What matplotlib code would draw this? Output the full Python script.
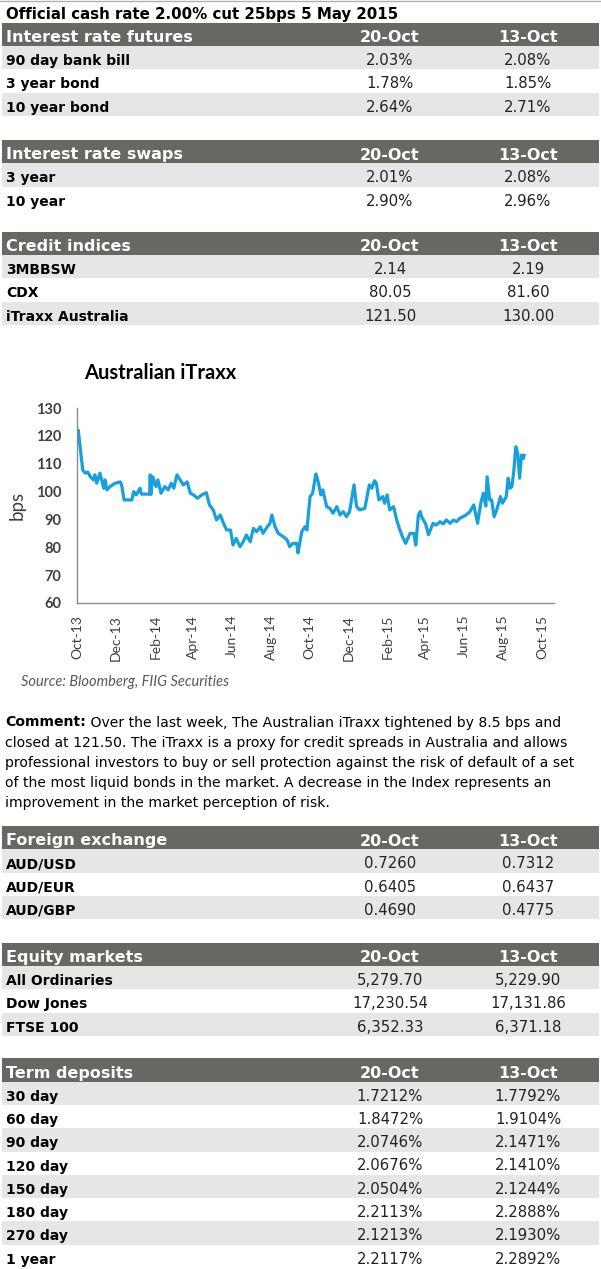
import matplotlib
matplotlib.use('Agg')
import matplotlib.pyplot as plt
import matplotlib.dates as mdates
from matplotlib.patches import Rectangle
import pandas as pd

# ---- table data ----
cash_title = 'Official cash rate 2.00% cut 25bps 5 May 2015'
col_dates = ['20-Oct', '13-Oct']

futures_rows = ['90 day bank bill', '3 year bond', '10 year bond']
futures_now = ['2.03%', '1.78%', '2.64%']
futures_prev = ['2.08%', '1.85%', '2.71%']

swaps_rows = ['3 year', '10 year']
swaps_now = ['2.01%', '2.90%']
swaps_prev = ['2.08%', '2.96%']

credit_rows = ['3MBBSW', 'CDX', 'iTraxx Australia']
credit_now = ['2.14', '80.05', '121.50']
credit_prev = ['2.19', '81.60', '130.00']

fx_rows = ['AUD/USD', 'AUD/EUR', 'AUD/GBP']
fx_now = ['0.7260', '0.6405', '0.4690']
fx_prev = ['0.7312', '0.6437', '0.4775']

equity_rows = ['All Ordinaries', 'Dow Jones', 'FTSE 100']
equity_now = ['5,279.70', '17,230.54', '6,352.33']
equity_prev = ['5,229.90', '17,131.86', '6,371.18']

td_rows = ['30 day', '60 day', '90 day', '120 day', '150 day', '180 day', '270 day', '1 year']
td_now = ['1.7212%', '1.8472%', '2.0746%', '2.0676%', '2.0504%', '2.2113%', '2.1213%', '2.2117%']
td_prev = ['1.7792%', '1.9104%', '2.1471%', '2.1410%', '2.1244%', '2.2888%', '2.1930%', '2.2892%']

# ---- iTraxx series ----
itraxx_dates = [
    '2013-10-01', '2013-10-03', '2013-10-10', '2013-10-14', '2013-10-18', '2013-10-22', '2013-10-27',
    '2013-10-29', '2013-11-01', '2013-11-06', '2013-11-12', '2013-11-14', '2013-11-17', '2013-11-22',
    '2013-11-30', '2013-12-08', '2013-12-10', '2013-12-14', '2013-12-26', '2013-12-29', '2014-01-02',
    '2014-01-08', '2014-01-10', '2014-01-23', '2014-01-24', '2014-01-25', '2014-01-28', '2014-02-02',
    '2014-02-05', '2014-02-10', '2014-02-16', '2014-02-21', '2014-02-26', '2014-03-02', '2014-03-07',
    '2014-03-12', '2014-03-17', '2014-03-23', '2014-03-28', '2014-04-02', '2014-04-08', '2014-04-15',
    '2014-04-22', '2014-04-27', '2014-05-03', '2014-05-08', '2014-05-14', '2014-05-19', '2014-05-24',
    '2014-05-30', '2014-06-03', '2014-06-08', '2014-06-14', '2014-06-19', '2014-06-24', '2014-06-30',
    '2014-07-05', '2014-07-10', '2014-07-16', '2014-07-20', '2014-07-25', '2014-07-31', '2014-08-03',
    '2014-08-08', '2014-08-13', '2014-08-21', '2014-08-27', '2014-08-31', '2014-09-05', '2014-09-11',
    '2014-09-13', '2014-09-19', '2014-09-24', '2014-09-27', '2014-10-02', '2014-10-06', '2014-10-11',
    '2014-10-14', '2014-10-19', '2014-10-22', '2014-10-28', '2014-11-02', '2014-11-07', '2014-11-13',
    '2014-11-18', '2014-11-23', '2014-11-28', '2014-12-03', '2014-12-06', '2014-12-10', '2014-12-14',
    '2014-12-19', '2014-12-27', '2014-12-31', '2015-01-03', '2015-01-07', '2015-01-11', '2015-01-14',
    '2015-01-18', '2015-01-24', '2015-01-27', '2015-01-31', '2015-02-04', '2015-02-10', '2015-02-15',
    '2015-02-20', '2015-02-24', '2015-03-01', '2015-03-08', '2015-03-14', '2015-03-17', '2015-03-21',
    '2015-03-24', '2015-03-26', '2015-04-01', '2015-04-06', '2015-04-13', '2015-04-18', '2015-04-24',
    '2015-04-29', '2015-05-04', '2015-05-10', '2015-05-15', '2015-05-20', '2015-05-25', '2015-05-30',
    '2015-06-04', '2015-06-10', '2015-06-16', '2015-06-22', '2015-06-27', '2015-07-01', '2015-07-05',
    '2015-07-07', '2015-07-11', '2015-07-14', '2015-07-18', '2015-07-22', '2015-07-28', '2015-07-31',
    '2015-08-06', '2015-08-09', '2015-08-12', '2015-08-15', '2015-08-18', '2015-08-21', '2015-08-24',
    '2015-08-27', '2015-08-30', '2015-09-02', '2015-09-03',
]
itraxx_bps = [
    120.8, 122.0, 107.7, 106.6, 107.0, 105.3, 104.2,
    106.0, 103.0, 106.6, 101.2, 104.2, 100.6, 101.8,
    103.0, 103.5, 102.4, 97.0, 97.0, 100.0, 98.8,
    101.2, 99.1, 99.1, 106.0, 99.0, 105.3, 101.8,
    104.2, 99.4, 101.8, 100.6, 103.0, 101.2, 106.0,
    104.2, 102.4, 103.5, 99.4, 98.8, 97.6, 98.8,
    99.6, 95.2, 93.4, 89.8, 91.6, 88.6, 86.2,
    86.2, 80.8, 83.2, 80.2, 82.0, 84.4, 82.0,
    86.8, 85.6, 87.4, 85.0, 86.8, 88.6, 91.6,
    87.4, 85.0, 83.8, 82.6, 80.2, 81.4, 81.4,
    78.0, 85.6, 87.4, 86.2, 98.2, 99.4, 106.3,
    104.2, 98.8, 100.6, 94.6, 94.0, 92.2, 94.6,
    91.6, 92.8, 91.0, 92.8, 97.0, 102.4, 94.6,
    93.4, 94.0, 98.8, 102.4, 101.2, 103.9, 103.0,
    97.0, 98.2, 95.8, 98.8, 93.4, 94.6, 89.8,
    86.2, 83.8, 81.4, 85.0, 85.0, 80.8, 91.6,
    92.8, 91.0, 88.6, 84.5, 88.6, 88.0, 89.2,
    88.4, 89.8, 88.6, 89.8, 89.2, 90.4, 91.0,
    91.6, 92.8, 95.2, 88.6, 95.8, 99.4, 94.8,
    105.3, 97.0, 97.0, 91.0, 93.4, 98.2, 95.8,
    98.2, 104.8, 101.2, 101.8, 107.7, 116.1, 113.7,
    104.8, 113.1, 111.9, 113.0,
]

comment_lines = [
    'Over the last week, The Australian iTraxx tightened by 8.5 bps and',
    'closed at 121.50. The iTraxx is a proxy for credit spreads in Australia and allows',
    'professional investors to buy or sell protection against the risk of default of a set',
    'of the most liquid bonds in the market. A decrease in the Index represents an',
    'improvement in the market perception of risk.',
]

W, H = 601, 1269
HEAD = '#686763'
STRIPE = '#e6e6e6'
ROW = 23.3
TFONT = 'DejaVu Sans'

fig = plt.figure(figsize=(W / 100, H / 100), dpi=100)
bg = fig.add_axes([0, 0, 1, 1])
bg.set_xlim(0, W)
bg.set_ylim(H, 0)
bg.axis('off')


def draw_table(top, title, labels, now, prev):
    bg.add_patch(Rectangle((2, top), 597, ROW, color=HEAD, lw=0))
    bg.text(6, top + 19.5, title, color='white', fontsize=11.5, fontweight='bold',
            family=TFONT, va='baseline')
    for x, d in zip([390, 528], col_dates):
        bg.text(x, top + 19.5, d, color='white', fontsize=11.5, fontweight='bold',
                family=TFONT, va='baseline', ha='center')
    for i, (lab, a, b) in enumerate(zip(labels, now, prev)):
        y0 = top + ROW * (i + 1)
        if i % 2 == 0:
            bg.add_patch(Rectangle((2, y0), 597, ROW, color=STRIPE, lw=0))
        bg.text(6, y0 + 19, lab, fontsize=10, fontweight='bold', family=TFONT,
                va='baseline', color='black')
        bg.text(390, y0 + 19, a, fontsize=10.7, family=TFONT, va='baseline', ha='center',
                color='#222222')
        bg.text(528, y0 + 19, b, fontsize=10.7, family=TFONT, va='baseline', ha='center',
                color='#222222')


# top rule and title
bg.plot([0, W], [0.5, 0.5], color='#b0b0b0', lw=1)
bg.text(6, 18.5, cash_title, fontsize=10.8, fontweight='bold', family=TFONT, va='baseline')

draw_table(22.7, 'Interest rate futures', futures_rows, futures_now, futures_prev)
draw_table(140, 'Interest rate swaps', swaps_rows, swaps_now, swaps_prev)
draw_table(231.7, 'Credit indices', credit_rows, credit_now, credit_prev)
draw_table(826, 'Foreign exchange', fx_rows, fx_now, fx_prev)
draw_table(942.7, 'Equity markets', equity_rows, equity_now, equity_prev)
draw_table(1058.3, 'Term deposits', td_rows, td_now, td_prev)

# ---- chart ----
ax_l, ax_r, ax_t, ax_b = 77, 554, 408, 603
ax = fig.add_axes([ax_l / W, 1 - ax_b / H, (ax_r - ax_l) / W, (ax_b - ax_t) / H])
ax.patch.set_alpha(0)
ax.plot(pd.to_datetime(itraxx_dates), itraxx_bps, color='#18a0dc', lw=2.3,
        solid_joinstyle='round')
ax.set_ylim(60, 130)
ax.set_yticks(range(60, 131, 10))
ax.set_xlim(pd.Timestamp('2013-10-01'), pd.Timestamp('2015-10-20'))
ax.set_xticks(pd.date_range('2013-10-01', '2015-10-01', freq='2MS'))
ax.xaxis.set_major_formatter(mdates.DateFormatter('%b-%y'))
for s in ['top', 'right']:
    ax.spines[s].set_visible(False)
for s in ['left', 'bottom']:
    ax.spines[s].set_color('#8c8c8c')
    ax.spines[s].set_linewidth(1)
ax.tick_params(axis='both', length=0, colors='#404040')
ax.tick_params(axis='y', pad=11.5, labelsize=10.5)
ax.tick_params(axis='x', pad=8.5, labelsize=10, labelrotation=90)
for t in ax.get_yticklabels():
    t.set_fontweight('bold')
    t.set_family('Lato')
for t in ax.get_xticklabels():
    t.set_family('Lato')
ax.set_ylabel('bps', fontsize=13.5, family='Lato', color='#404040')
ax.yaxis.set_label_coords(-51 / (ax_r - ax_l), 0.5)

bg.text(84, 379, 'Australian iTraxx', fontsize=14.5, fontweight='bold', family='Lato',
        va='baseline', color='black')
bg.text(21, 686, 'Source: Bloomberg, FIIG Securities', fontsize=10.5, style='italic',
        family='Lato', color='#595959', va='baseline')

# ---- comment ----
base = [726.5, 747, 767.5, 787.5, 807.5]
CS = 10.1
first = bg.text(5, base[0], 'Comment:', fontsize=CS, fontweight='bold', family=TFONT,
                va='baseline')
bg.annotate(' ' + comment_lines[0], xy=(1, 0), xycoords=first, fontsize=CS, family=TFONT,
            va='bottom', ha='left')
for y, line in zip(base[1:], comment_lines[1:]):
    bg.text(5, y, line, fontsize=CS, family=TFONT, va='baseline')

fig.savefig('out.png', dpi=100)
